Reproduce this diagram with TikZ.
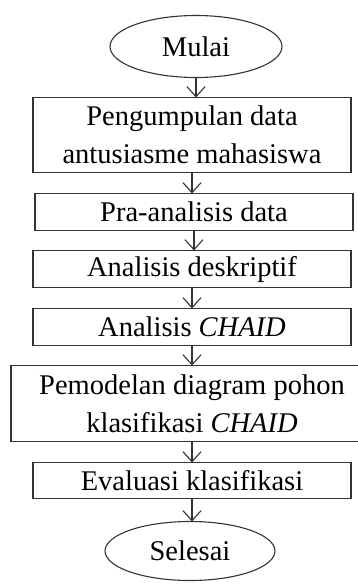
\documentclass[tikz,border=0pt]{standalone}
\usepackage{fontspec}
\setmainfont{Liberation Serif}
\usepackage{tikz}
\usetikzlibrary{arrows.meta,positioning,shapes.geometric}

\begin{document}
\begin{tikzpicture}[x=1pt,y=1pt,
    panah/.style={-{Straight Barb[length=10pt,width=18pt]},draw=black!80,line width=1.1pt},
    font=\fontsize{28.5}{38}\selectfont,
    every node/.style={draw=black!80,line width=1.1pt,align=center,inner sep=2pt,outer sep=0pt},
    terminal/.style={ellipse,minimum width=172pt,minimum height=62pt},
    proses/.style={rectangle,minimum width=318pt,minimum height=37pt}]
  \useasboundingbox (0,0) rectangle (358,-587);

  \node[terminal]                              (mulai)   at (196,-46.5) {Mulai};
  \node[proses,minimum height=75pt]            (kumpul)  [below=20pt of mulai,xshift=-4pt]
        {Pengumpulan data\\antusiasme mahasiswa};
  \node[proses]                                (pra)     [below=21pt of kumpul,xshift=2pt] {Pra-analisis data};
  \node[proses]                                (deskrip) [below=20pt of pra,xshift=-2pt] {Analisis deskriptif};
  \node[proses]                                (chaid)   [below=21pt of deskrip] {Analisis \textit{CHAID}};
  \node[proses,minimum width=362pt,minimum height=76pt] (model) [below=20pt of chaid]
        {Pemodelan diagram pohon\\klasifikasi \textit{CHAID}};
  \node[proses,minimum height=36pt]            (evaluasi) [below=21pt of model] {Evaluasi klasifikasi};
  \node[terminal,minimum width=170pt,minimum height=59pt] (selesai) [below=23pt of evaluasi,xshift=-2pt] {Selesai};

  \draw[panah] (mulai.south)    -- (mulai.south |- kumpul.north);
  \draw[panah] (kumpul.south)   -- (kumpul.south |- pra.north);
  \draw[panah] (pra.south)      -- (pra.south |- deskrip.north);
  \draw[panah] (deskrip.south)  -- (deskrip.south |- chaid.north);
  \draw[panah] (chaid.south)    -- (chaid.south |- model.north);
  \draw[panah] (model.south)    -- (model.south |- evaluasi.north);
  \draw[panah] (evaluasi.south) -- (evaluasi.south |- selesai.north);
\end{tikzpicture}
\end{document}
